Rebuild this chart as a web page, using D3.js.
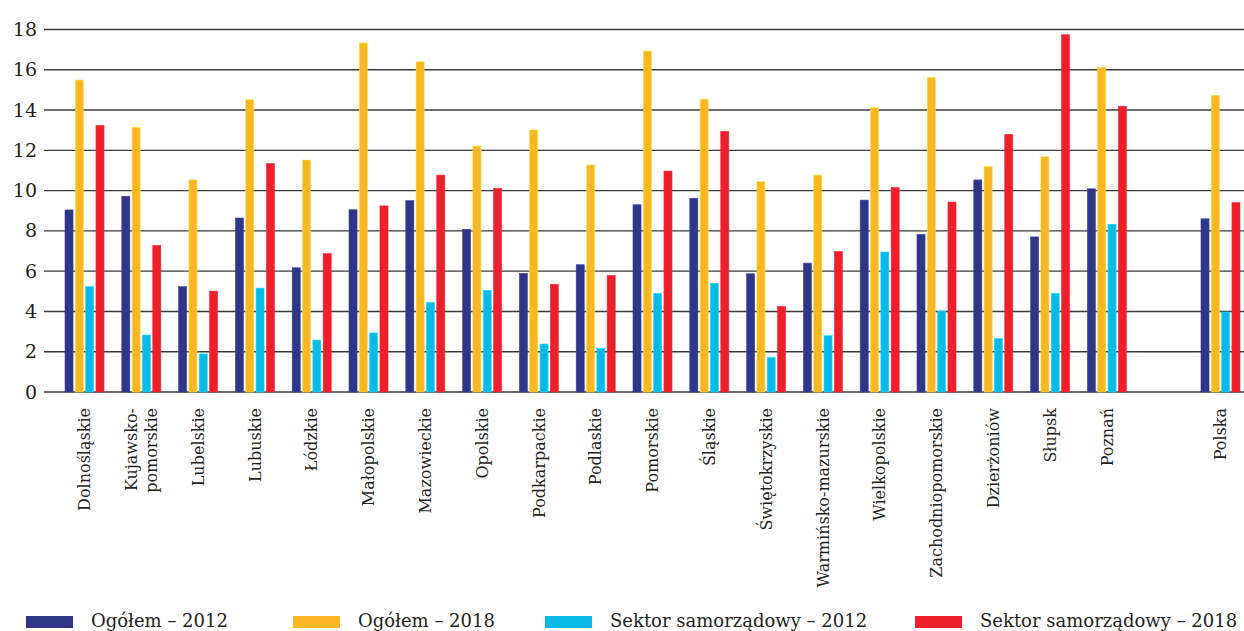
<!DOCTYPE html>
<html>
<head>
<meta charset="utf-8">
<script src="https://cdn.jsdelivr.net/npm/d3@7"></script>
<style>
  html, body { margin: 0; padding: 0; background: #fff; }
  svg { display: block; }
  text { font-family: "DejaVu Serif", "Liberation Serif", serif; fill: #231f20; }
</style>
</head>
<body>
<svg id="chart" width="1244" height="631"></svg>
<script>
// Regions / cities (an empty slot separates the national figure)
const categories = [
  "Dolnośląskie", "Kujawsko-\npomorskie", "Lubelskie", "Lubuskie", "Łódzkie",
  "Małopolskie", "Mazowieckie", "Opolskie", "Podkarpackie", "Podlaskie",
  "Pomorskie", "Śląskie", "Świętokrzyskie", "Warmińsko-mazurskie", "Wielkopolskie",
  "Zachodniopomorskie", "Dzierżoniów", "Słupsk", "Poznań", "", "Polska"
];

const seriesNames = ["Ogółem – 2012", "Ogółem – 2018", "Sektor samorządowy – 2012", "Sektor samorządowy – 2018"];
const seriesColors = ["#2e3687", "#f9b625", "#0bb9e7", "#ed1f2b"];

const ogolem2012 = [9.04, 9.72, 5.23, 8.64, 6.17, 9.05, 9.50, 8.08, 5.89, 6.32,
                    9.30, 9.62, 5.87, 6.40, 9.53, 7.83, 10.53, 7.70, 10.09, null, 8.60];
const ogolem2018 = [15.49, 13.13, 10.53, 14.51, 11.52, 17.33, 16.40, 12.21, 13.01, 11.27,
                    16.93, 14.53, 10.44, 10.77, 14.12, 15.62, 11.19, 11.68, 16.12, null, 14.73];
const samorzad2012 = [5.23, 2.83, 1.89, 5.16, 2.58, 2.93, 4.45, 5.05, 2.38, 2.17,
                      4.90, 5.40, 1.72, 2.80, 6.95, 4.02, 2.65, 4.90, 8.33, null, 3.97];
const samorzad2018 = [13.24, 7.28, 5.01, 11.34, 6.87, 9.24, 10.77, 10.11, 5.35, 5.79,
                      10.97, 12.94, 4.25, 6.97, 10.15, 9.43, 12.79, 17.74, 14.19, null, 9.40];

const yTicks = [0, 2, 4, 6, 8, 10, 12, 14, 16, 18];

const series = [ogolem2012, ogolem2018, samorzad2012, samorzad2018];
const slotKeys = categories.map((c, i) => "slot" + i);

const svg = d3.select("#chart");

const x0 = d3.scaleBand().domain(slotKeys).range([65, 1240]).paddingInner(0.313).paddingOuter(0);
const x1 = d3.scaleBand().domain(d3.range(series.length)).range([0, x0.bandwidth()]).paddingInner(0.22).paddingOuter(0);
const y = d3.scaleLinear().domain([0, 18]).range([392, 29.5]);

// Horizontal grid lines
svg.append("g")
  .selectAll("line")
  .data(yTicks)
  .join("line")
  .attr("x1", 44).attr("x2", 1244)
  .attr("y1", d => y(d)).attr("y2", d => y(d))
  .attr("stroke", "#3a3a3a")
  .attr("stroke-width", 1.4);

// Y axis labels
const yAxis = d3.axisLeft(y).tickValues(yTicks).tickSize(0).tickPadding(0).tickFormat(d3.format("d"));
svg.append("g")
  .attr("transform", "translate(37,0)")
  .call(yAxis)
  .call(g => g.select(".domain").remove())
  .selectAll("text")
  .attr("font-size", 19)
  .attr("font-family", "DejaVu Serif")
  .attr("fill", "#231f20");

// Bars
const groups = svg.append("g")
  .selectAll("g")
  .data(slotKeys)
  .join("g")
  .attr("transform", d => `translate(${x0(d)},0)`);

groups.selectAll("rect")
  .data((d, i) => series.map((s, k) => ({ k, v: s[i] })).filter(e => e.v != null))
  .join("rect")
  .attr("x", e => x1(e.k))
  .attr("width", x1.bandwidth())
  .attr("y", e => y(e.v))
  .attr("height", e => y(0) - y(e.v))
  .attr("fill", e => seriesColors[e.k])
  .attr("stroke", e => d3.color(seriesColors[e.k]).brighter(0.6))
  .attr("stroke-width", 0.6);

// Category labels (rotated)
const labels = svg.append("g")
  .selectAll("text")
  .data(categories.map((c, i) => ({ c, key: slotKeys[i] })).filter(d => d.c))
  .join("text")
  .attr("transform", d => `translate(${x0(d.key) + x0.bandwidth() / 2},408) rotate(-90)`)
  .attr("text-anchor", "end")
  .attr("font-size", 16);

labels.each(function(d) {
  const lines = d.c.split("\n");
  const t = d3.select(this);
  const lh = 1.3;
  const start = -((lines.length - 1) * lh) / 2 + 0.35;
  lines.forEach((ln, j) => {
    t.append("tspan")
      .attr("x", 0)
      .attr("dy", j === 0 ? start + "em" : lh + "em")
      .text(ln);
  });
});

// Legend
const legendX = [26, 293, 545, 915];
const legend = svg.append("g")
  .selectAll("g")
  .data(seriesNames)
  .join("g")
  .attr("transform", (d, i) => `translate(${legendX[i]},616)`);

legend.append("rect")
  .attr("width", 47).attr("height", 12)
  .attr("fill", (d, i) => seriesColors[i]);

legend.append("text")
  .attr("x", 65).attr("y", 11)
  .attr("font-size", 18)
  .text(d => d);
</script>
</body>
</html>
